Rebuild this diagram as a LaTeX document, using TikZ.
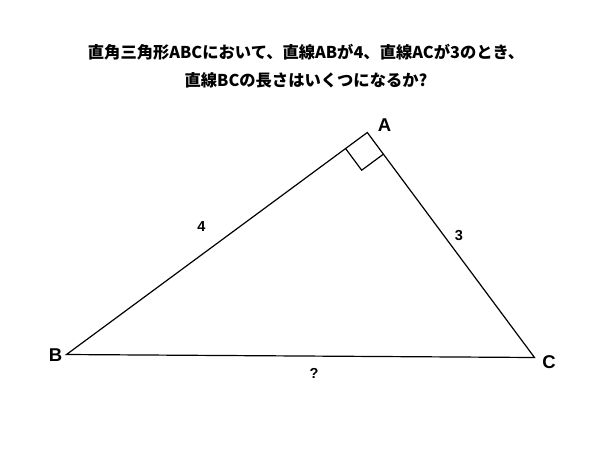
\documentclass[tikz,border=0pt]{standalone}
\usepackage{fontspec}
\usetikzlibrary{calc}
\setmainfont{Liberation Sans}
\newfontfamily\cjk{Noto Sans CJK JP}
\begin{document}
\begin{tikzpicture}[x=1pt,y=-1pt,
  edge/.style={line width=1.2pt,line join=miter},
  vlabel/.style={font=\bfseries\fontsize{18.5}{20}\selectfont,inner sep=0pt},
  slabel/.style={font=\bfseries\fontsize{14.5}{15}\selectfont,inner sep=0pt},
  title/.style={font=\cjk\bfseries\fontsize{16.3}{28}\selectfont,align=center,inner sep=0pt}]
\useasboundingbox[fill=white] (0,0) rectangle (600,448);
\node[title] (t) at (306,66) {直角三角形ABCにおいて、直線ABが4、直線ACが3のとき、\\直線BCの長さはいくつになるか?};
\coordinate (A) at (367.3,132.5);
\coordinate (B) at (66.5,354.5);
\coordinate (C) at (534.5,357.5);
\draw[edge] (A) -- (B) -- (C) -- cycle;
\coordinate (P1) at ($(A)!27pt!(B)$);
\coordinate (P3) at ($(A)!27pt!(C)$);
\draw[line width=1.2pt] (P1) -- ($(P1)+(P3)-(A)$) -- (P3);
\node[vlabel] (la) at (384.5,125.5) {A};
\node[vlabel] (lb) at (55.5,355.5) {B};
\node[vlabel] (lc) at (549,362) {C};
\node[slabel] (l4) at (201.5,227) {4};
\node[slabel] (l3) at (459,236) {3};
\node[slabel] (lq) at (314,373) {?};
\end{tikzpicture}
\end{document}
